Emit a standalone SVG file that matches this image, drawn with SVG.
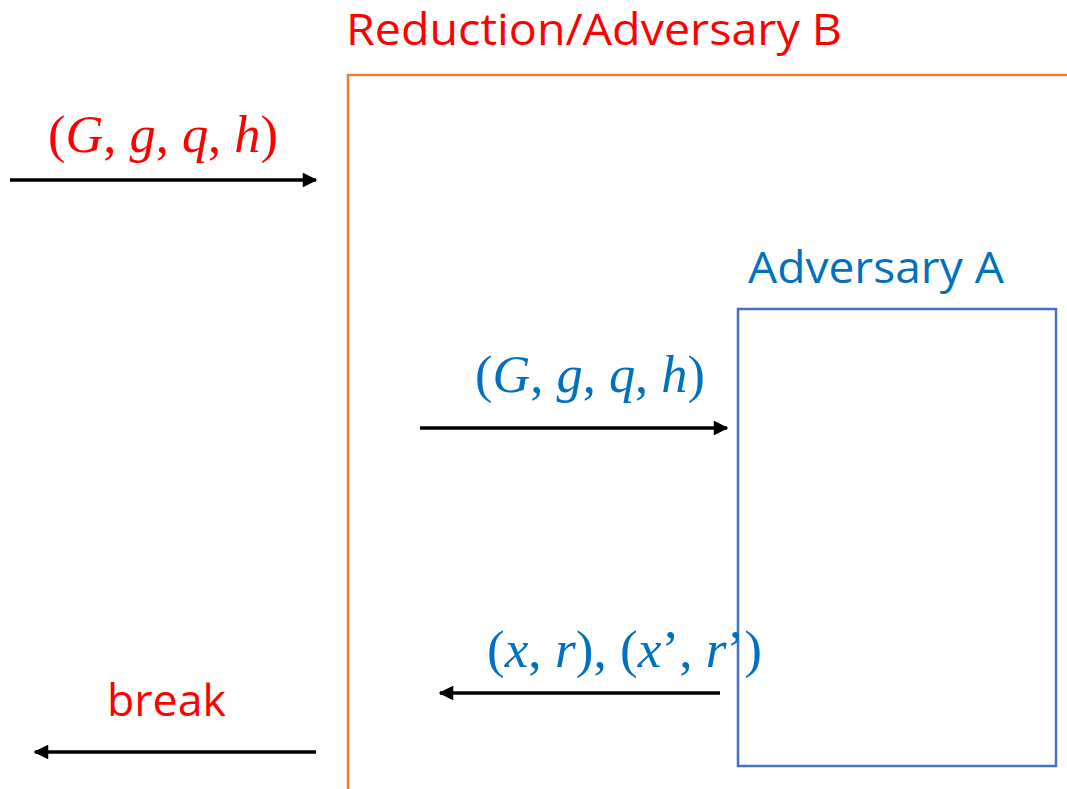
<svg xmlns="http://www.w3.org/2000/svg" width="1067" height="789" viewBox="0 0 1067 789">
<style>
.lbl{font-family:"Open Sans","Liberation Sans",sans-serif;font-size:44px}
.math{font-family:"Liberation Serif","DejaVu Serif",serif;font-size:52px}
.i{font-style:italic}
.red{fill:#FF0000}
.blue{fill:#0070C0}
.arr{stroke:#000;stroke-width:3.5;fill:none;marker-end:url(#ah)}
</style>
<defs>
<marker id="ah" viewBox="0 0 10 10" refX="9" refY="5" markerWidth="4.8" markerHeight="4.2" markerUnits="strokeWidth" orient="auto">
<path d="M0,0 L10,5 L0,10 Z" fill="#000"/>
</marker>
</defs>
<rect width="1067" height="789" fill="#fff"/>
<g id="reduction">
<path d="M348,800 L348,75 L1080,75" fill="none" stroke="#ED7D31" stroke-width="2.5"/>
<text class="lbl red" x="346" y="45" textLength="496" lengthAdjust="spacingAndGlyphs">Reduction/Adversary B</text>
</g>
<g id="adversaryA">
<rect x="738" y="309" width="318" height="457" fill="none" stroke="#4472C4" stroke-width="2.5"/>
<text class="lbl blue" x="748" y="283" textLength="256" lengthAdjust="spacingAndGlyphs">Adversary A</text>
</g>
<g id="labels">
<text class="math red" x="48" y="152" textLength="230" lengthAdjust="spacingAndGlyphs">(<tspan class="i">G</tspan>, <tspan class="i">g</tspan>, <tspan class="i">q</tspan>, <tspan class="i">h</tspan>)</text>
<text class="math blue" x="475" y="392" textLength="230" lengthAdjust="spacingAndGlyphs">(<tspan class="i">G</tspan>, <tspan class="i">g</tspan>, <tspan class="i">q</tspan>, <tspan class="i">h</tspan>)</text>
<text class="math blue" x="487" y="667" textLength="275" lengthAdjust="spacingAndGlyphs">(<tspan class="i">x</tspan>, <tspan class="i">r</tspan>), (<tspan class="i">x</tspan>’, <tspan class="i">r</tspan>’)</text>
<text class="lbl red" x="107" y="716" textLength="119" lengthAdjust="spacingAndGlyphs">break</text>
</g>
<g id="connectors">
<line class="arr" x1="10" y1="180" x2="316" y2="180"/>
<line class="arr" x1="420" y1="428" x2="727" y2="428"/>
<line class="arr" x1="720" y1="693" x2="440" y2="693"/>
<line class="arr" x1="316" y1="752" x2="35" y2="752"/>
</g>
</svg>
